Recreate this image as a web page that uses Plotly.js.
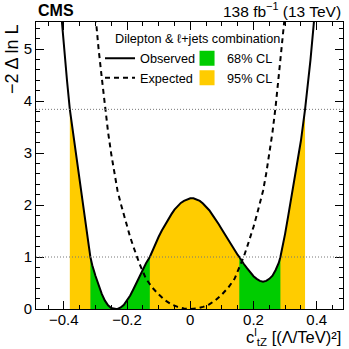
<!DOCTYPE html>
<html>
<head>
<meta charset="utf-8">
<script src="https://cdn.plot.ly/plotly-3.0.1.min.js"></script>
<style>
  html, body { margin: 0; padding: 0; background: #fff; }
  #scan { width: 349px; height: 349px; }
</style>
</head>
<body>
<div id="scan"></div>
<script>
// observed likelihood scan
var obsX = [-0.41, -0.40, -0.39, -0.381, -0.37, -0.36, -0.35, -0.34, -0.33, -0.32, -0.316, -0.31, -0.30, -0.29, -0.28, -0.27, -0.26, -0.25, -0.24, -0.235,
  -0.23, -0.22, -0.21, -0.20, -0.19, -0.18, -0.17, -0.16, -0.15, -0.14, -0.128, -0.12, -0.11, -0.10, -0.09, -0.08, -0.07, -0.06, -0.05, -0.04,
  -0.03, -0.02, -0.01, 0.00, 0.01, 0.02, 0.03, 0.04, 0.05, 0.06, 0.07, 0.08, 0.09, 0.10, 0.11, 0.12, 0.13, 0.14, 0.15, 0.155,
  0.16, 0.17, 0.18, 0.19, 0.20, 0.21, 0.22, 0.23, 0.24, 0.25, 0.26, 0.27, 0.28, 0.285, 0.29, 0.30, 0.31, 0.32, 0.33, 0.34,
  0.35, 0.363, 0.37, 0.38, 0.39, 0.40];
var obsY = [5.80, 5.05, 4.40, 3.84, 3.34, 2.90, 2.47, 2.03, 1.60, 1.17, 1.00, 0.84, 0.64, 0.45, 0.29, 0.16, 0.07, 0.02, 0.002, 0.0,
  0.002, 0.03, 0.08, 0.16, 0.26, 0.38, 0.51, 0.64, 0.77, 0.88, 1.00, 1.12, 1.26, 1.39, 1.51, 1.62, 1.73, 1.82, 1.91, 1.98,
  2.04, 2.08, 2.11, 2.13, 2.13, 2.11, 2.08, 2.03, 1.97, 1.90, 1.81, 1.73, 1.63, 1.53, 1.43, 1.32, 1.22, 1.13, 1.04, 1.00,
  0.95, 0.86, 0.78, 0.70, 0.63, 0.58, 0.54, 0.525, 0.54, 0.58, 0.64, 0.75, 0.89, 1.00, 1.13, 1.45, 1.80, 2.15, 2.50, 2.86,
  3.24, 3.84, 4.20, 4.78, 5.45, 6.15];

// expected scan
var expX = [-0.31, -0.30, -0.29, -0.28, -0.27, -0.26, -0.25, -0.24, -0.23, -0.22, -0.21, -0.20, -0.19, -0.18, -0.17, -0.16,
  -0.14, -0.12, -0.10, -0.08, -0.06, -0.04, -0.02, 0.00, 0.02, 0.04, 0.06, 0.08, 0.10, 0.12, 0.14,
  0.16, 0.17, 0.18, 0.19, 0.20, 0.21, 0.22, 0.23, 0.24, 0.25, 0.26, 0.27, 0.28, 0.29, 0.30, 0.31];
var expY = [6.3, 5.6, 5.0, 4.45, 3.90, 3.40, 2.98, 2.60, 2.27, 2.03, 1.80, 1.58, 1.38, 1.20, 1.02, 0.86,
  0.58, 0.41, 0.28, 0.17, 0.09, 0.04, 0.01, 0.0, 0.01, 0.04, 0.09, 0.17, 0.28, 0.41, 0.58,
  0.86, 1.02, 1.20, 1.38, 1.58, 1.80, 2.03, 2.27, 2.60, 2.98, 3.40, 3.90, 4.45, 5.0, 5.6, 6.3];

// confidence intervals on the observed scan
var cl95 = [[-0.381, 0.363]];
var cl68 = [[-0.316, -0.128], [0.155, 0.285]];
var clLevels = [1, 3.84];

var green = '#00cc00';
var yellow = '#ffcc00';
var fnt = 'Liberation Sans, Arial, Helvetica, sans-serif';

function band(lo, hi, color) {
  var xs = [], ys = [];
  obsX.forEach(function (x, i) {
    if (x >= lo - 1e-9 && x <= hi + 1e-9) { xs.push(x); ys.push(obsY[i]); }
  });
  return {x: xs, y: ys, type: 'scatter', mode: 'none', fill: 'tozeroy', fillcolor: color,
    showlegend: false, hoverinfo: 'skip'};
}

var data = [];
cl95.forEach(function (r) { data.push(band(r[0], r[1], yellow)); });
cl68.forEach(function (r) { data.push(band(r[0], r[1], green)); });

data.push({x: expX, y: expY, type: 'scatter', mode: 'lines', name: 'Expected',
  line: {color: 'black', width: 2, dash: '5px,4px'}});
data.push({x: obsX, y: obsY, type: 'scatter', mode: 'lines', name: 'Observed',
  line: {color: 'black', width: 2}});

// legend boxes for the bands
data.push({x: [null], y: [null], type: 'scatter', mode: 'markers', name: '68% CL', legend: 'legend2',
  marker: {symbol: 'square', size: 15, color: green}});
data.push({x: [null], y: [null], type: 'scatter', mode: 'markers', name: '95% CL', legend: 'legend2',
  marker: {symbol: 'square', size: 15, color: yellow}});

var shapes = clLevels.map(function (v) {
  return {type: 'line', xref: 'paper', x0: 0, x1: 1, yref: 'y', y0: v, y1: v,
    line: {color: '#777', width: 1, dash: '1px,2px'}};
});

var axisStyle = {
  showline: true, linecolor: 'black', linewidth: 1, mirror: 'allticks',
  ticks: 'inside', ticklen: 8, tickcolor: 'black', showgrid: false, zeroline: false,
  tickfont: {family: fnt, size: 15, color: 'black'}
};

var layout = {
  width: 349, height: 349,
  margin: {l: 36, r: 6, t: 22, b: 40},
  paper_bgcolor: 'white', plot_bgcolor: 'white',
  font: {family: fnt, color: 'black'},
  xaxis: Object.assign({}, axisStyle, {range: [-0.488, 0.483], dtick: 0.2, tick0: 0, ticklabelstandoff: -3,
    minor: {ticks: 'inside', ticklen: 4, dtick: 0.05, tick0: 0, tickcolor: 'black'}}),
  yaxis: Object.assign({}, axisStyle, {range: [0, 5.52], dtick: 1, tick0: 0,
    minor: {ticks: 'inside', ticklen: 4, dtick: 0.2, tick0: 0, tickcolor: 'black'}}),
  showlegend: true,
  legend: {x: 0.2085, y: 0.925, xanchor: 'left', yanchor: 'top', bgcolor: 'rgba(0,0,0,0)',
    font: {family: fnt, size: 12.7}, traceorder: 'reversed', tracegroupgap: 0},
  legend2: {x: 0.492, y: 0.925, xanchor: 'left', yanchor: 'top', bgcolor: 'rgba(0,0,0,0)',
    font: {family: fnt, size: 12.7}, tracegroupgap: 0},
  shapes: shapes,
  annotations: [
    {text: '<b>CMS</b>', xref: 'paper', yref: 'paper', x: 0, y: 1, xanchor: 'left', yanchor: 'bottom',
      yshift: 1, showarrow: false, font: {family: fnt, size: 16}},
    {text: '138 fb<sup>\u22121</sup> (13 TeV)', xref: 'paper', yref: 'paper', x: 1, y: 1, xanchor: 'right',
      yanchor: 'bottom', showarrow: false, font: {family: fnt, size: 15.5}},
    {text: 'Dilepton & \u2113+jets combination', xref: 'paper', yref: 'paper', x: 0.25, y: 0.941,
      xanchor: 'left', yanchor: 'middle', showarrow: false, font: {family: fnt, size: 12.7}},
    {text: '\u22122 \u0394 ln L', xref: 'paper', yref: 'paper', x: 0, y: 1, xanchor: 'center', yanchor: 'top',
      xshift: -24, textangle: -90, showarrow: false, font: {family: fnt, size: 18}},
    {text: 'c<sup>l</sup><sub>tZ</sub> [(\u039B/TeV)\u00B2]', xref: 'paper', yref: 'paper', x: 1, y: 0,
      xanchor: 'right', yanchor: 'top', yshift: -14.5, showarrow: false, font: {family: fnt, size: 16.5}}
  ]
};

Plotly.newPlot('scan', data, layout, {staticPlot: true});
</script>
</body>
</html>
